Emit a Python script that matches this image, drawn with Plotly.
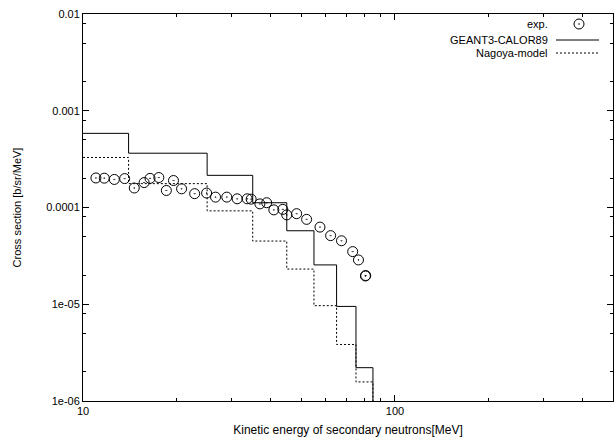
import plotly.graph_objects as go

# ---- data ----
exp_energy = [11.0, 11.7, 12.6, 13.6, 14.6, 15.7, 16.4, 17.5, 18.5, 19.5,
              20.7, 22.8, 24.9, 26.6, 28.9, 31.2, 33.6, 34.6, 36.9, 38.8,
              40.9, 43.7, 45.0, 48.4, 52.1, 57.5, 62.2, 67.4, 73.2, 76.4,
              80.4, 80.6]
exp_xs = [2.02e-4, 2.01e-4, 1.95e-4, 1.99e-4, 1.59e-4, 1.81e-4, 2.0e-4, 2.04e-4, 1.50e-4, 1.90e-4,
          1.56e-4, 1.39e-4, 1.41e-4, 1.28e-4, 1.28e-4, 1.23e-4, 1.23e-4, 1.22e-4, 1.09e-4, 1.12e-4,
          9.45e-5, 9.56e-5, 8.39e-5, 8.63e-5, 7.54e-5, 6.27e-5, 5.12e-5, 4.53e-5, 3.50e-5, 2.87e-5,
          1.96e-5, 1.98e-5]

bin_edges = [10, 14, 25, 35, 45, 55, 65, 75, 85]
geant_xs = [5.84e-4, 3.64e-4, 2.15e-4, 1.12e-4, 5.75e-5, 2.55e-5, 9.5e-6, 2.21e-6]
nagoya_xs = [3.29e-4, 1.765e-4, 9.23e-5, 4.50e-5, 2.31e-5, 9.67e-6, 3.84e-6, 1.575e-6]
floor_value = 1e-8

y_tickvals = [1e-2, 1e-3, 1e-4, 1e-5, 1e-6]
y_ticktext = ["0.01", "0.001", "0.0001", "1e-05", "1e-06"]
x_tickvals = [10, 100]
x_ticktext = ["10", "100"]

legend_names = ["exp.", "GEANT3-CALOR89", "Nagoya-model"]

FONT = "Liberation Sans, Arial, Helvetica, sans-serif"

fig = go.Figure()

fig.add_trace(go.Scatter(
    x=bin_edges, y=geant_xs + [floor_value], mode="lines", line_shape="hv",
    line=dict(color="black", width=1), showlegend=False))
fig.add_trace(go.Scatter(
    x=bin_edges, y=nagoya_xs + [floor_value], mode="lines", line_shape="hv",
    line=dict(color="black", width=1, dash="2px,2px"), showlegend=False))
fig.add_trace(go.Scatter(
    x=exp_energy, y=exp_xs, mode="markers",
    marker=dict(symbol="circle-open-dot", size=10, color="black",
                line=dict(color="black", width=1)),
    showlegend=False))

# ---- hand-made legend (text right-aligned, samples on the right) ----
L, R, T, B = 83.0, 613.0, 14.0, 401.0
def px_x(p):
    return (p - L) / (R - L)
def px_y(p):
    return (B - p) / (B - T)

fig.add_trace(go.Scatter(
    x=[px_x(579)], y=[px_y(24)], xaxis="x2", yaxis="y2", mode="markers",
    marker=dict(symbol="circle-open-dot", size=10, color="black",
                line=dict(color="black", width=1)),
    showlegend=False, hoverinfo="skip"))
fig.add_trace(go.Scatter(
    x=[px_x(556), px_x(599)], y=[px_y(40), px_y(40)], xaxis="x2", yaxis="y2",
    mode="lines", line=dict(color="black", width=1),
    showlegend=False, hoverinfo="skip"))
fig.add_trace(go.Scatter(
    x=[px_x(556), px_x(599)], y=[px_y(53), px_y(53)], xaxis="x2", yaxis="y2",
    mode="lines", line=dict(color="black", width=1, dash="2px,2px"),
    showlegend=False, hoverinfo="skip"))

for name, py in zip(legend_names, [24, 40, 53]):
    fig.add_annotation(x=px_x(550), y=px_y(py), xref="paper", yref="paper",
                       text=name, showarrow=False, xanchor="right", yanchor="middle",
                       font=dict(family=FONT, size=11, color="black"))

y_minor = []
for dec in [1e-3, 1e-4, 1e-5, 1e-6]:
    for m in [2, 5, 8]:
        y_minor.append(m * dec)
x_minor = [20, 30, 40, 50, 60, 70, 80, 90, 200, 300, 400]

fig.update_layout(
    width=616, height=441,
    margin=dict(l=83, r=3, t=14, b=40),
    paper_bgcolor="white", plot_bgcolor="white",
    font=dict(family=FONT, size=11, color="black"),
    showlegend=False,
    xaxis=dict(
        type="log", range=[1, 2.69897], automargin=False,
        tickmode="array", tickvals=x_tickvals, ticktext=x_ticktext,
        ticks="inside", ticklen=6, tickcolor="black", tickwidth=1,
        minor=dict(tickmode="array", tickvals=x_minor, ticks="inside",
                   ticklen=3, tickcolor="black", tickwidth=1, showgrid=False),
        showline=True, linecolor="black", linewidth=1, mirror="allticks",
        showgrid=False, zeroline=False,
        title=dict(text="Kinetic energy of secondary neutrons[MeV]",
                   font=dict(family=FONT, size=12), standoff=9),
        tickfont=dict(family=FONT, size=11),
    ),
    yaxis=dict(
        type="log", range=[-6, -2], automargin=False,
        tickmode="array", tickvals=y_tickvals, ticktext=y_ticktext,
        ticks="inside", ticklen=6, tickcolor="black", tickwidth=1,
        minor=dict(tickmode="array", tickvals=y_minor, ticks="inside",
                   ticklen=3, tickcolor="black", tickwidth=1, showgrid=False),
        showline=True, linecolor="black", linewidth=1, mirror="allticks",
        showgrid=False, zeroline=False,
        title=dict(text="Cross section [b/sr/MeV]",
                   font=dict(family=FONT, size=11), standoff=22),
        tickfont=dict(family=FONT, size=11),
    ),
    xaxis2=dict(overlaying="x", range=[0, 1], visible=False, anchor="y2"),
    yaxis2=dict(overlaying="y", range=[0, 1], visible=False, anchor="x2"),
)

fig.write_html(
    "out.html",
    config={"responsive": False, "displayModeBar": False},
    post_script="document.body.style.margin='0';document.body.style.overflow='hidden';",
)
